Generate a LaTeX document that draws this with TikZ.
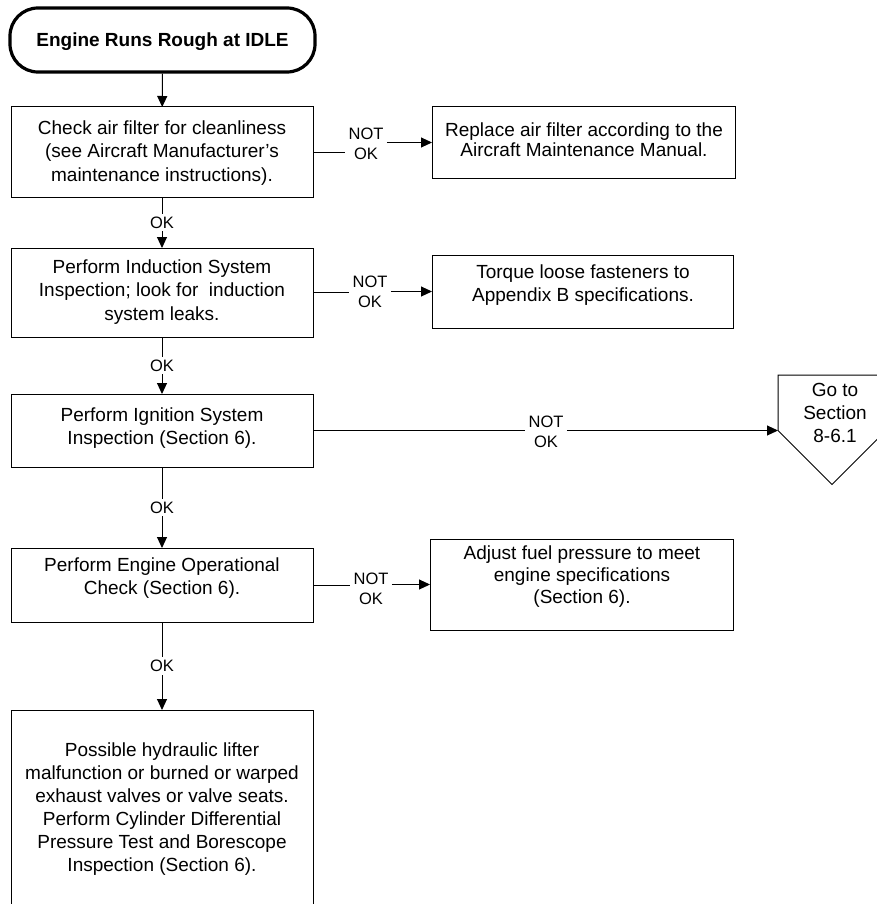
\documentclass[tikz,border=0pt]{standalone}
\usepackage{fontspec}
\setmainfont{Liberation Sans}
\usetikzlibrary{arrows.meta}
\begin{document}
\begin{tikzpicture}[x=0.5pt,y=-0.5pt,
 box/.style={draw, line width=0.5pt, inner sep=0pt, outer sep=0pt},
 txt/.style={align=center, font=\fontsize{9.5}{11.8}\selectfont, inner sep=0pt},
 lbl/.style={align=center, font=\fontsize{8.25}{10.2}\selectfont, fill=white, inner sep=1.5pt},
 arr/.style={-{Triangle[length=5.5pt,width=5pt]}, line width=0.5pt},
 con/.style={line width=0.5pt}]
\useasboundingbox (0,0) rectangle (877,904);
\clip (0,0) rectangle (877,904);
% terminal
\node[draw, line width=1.6pt, rounded corners=14pt, minimum width=152.5pt, minimum height=32pt, inner sep=0pt] (title) at (162.5,40) {};
\node[txt, font=\fontsize{9.5}{11.8}\selectfont\bfseries] (titletxt) at (162.5,42) {Engine Runs Rough at IDLE};
% left column
\node[box, minimum width=151pt, minimum height=45pt] (b1) at (162,152) {};
\node[txt] (b1t) at (162,153) {Check air filter for cleanliness\\(see Aircraft Manufacturer’s\\maintenance instructions).};
\node[box, minimum width=151pt, minimum height=44.5pt] (b2) at (162,292.5) {};
\node[txt] (b2t) at (162,292) {Perform Induction System\\Inspection; look for \ induction\\system leaks.};
\node[box, minimum width=151pt, minimum height=36.5pt] (b3) at (162,430.5) {};
\node[txt] (b3t) at (162,428) {Perform Ignition System\\Inspection (Section 6).};
\node[box, minimum width=151pt, minimum height=37pt] (b4) at (162,585) {};
\node[txt] (b4t) at (162,578) {Perform Engine Operational\\Check (Section 6).};
\node[box, minimum width=151pt, minimum height=99.5pt] (b5) at (162,809.5) {};
\node[txt, font=\fontsize{9.5}{11.5}\selectfont] (b5t) at (162,809) {Possible hydraulic lifter\\malfunction or burned or warped\\exhaust valves or valve seats.\\Perform Cylinder Differential\\Pressure Test and Borescope\\Inspection (Section 6).};
% right column
\node[box, minimum width=151.5pt, minimum height=35.5pt] (r1) at (583.5,142.5) {};
\node[txt, font=\fontsize{9.5}{10.2}\selectfont] (r1t) at (584,140) {Replace air filter according to the\\Aircraft Maintenance Manual.};
\node[box, minimum width=150.5pt, minimum height=36.5pt] (r2) at (582.5,291.5) {};
\node[txt] (r2t) at (583,285) {Torque loose fasteners to\\Appendix B specifications.};
\node[box, minimum width=151.5pt, minimum height=45.5pt] (r4) at (581.5,584.5) {};
\node[txt, font=\fontsize{9.5}{11}\selectfont] (r4t) at (582,577) {Adjust fuel pressure to meet\\engine specifications\\(Section 6).};
% off-page connector
\draw[con] (778,375) -- (886,375) -- (886,430.5) -- (832,484.5) -- (778,430.5) -- cycle;
\coordinate (goto) at (778,430.5);
\node[txt, font=\fontsize{9.5}{11.6}\selectfont] (gotot) at (835,413) {Go to\\Section\\8-6.1};
% vertical connectors
\draw[arr] (title) -- (b1);
\draw[arr] (b1) -- node[lbl, pos=0.5] {OK} (b2);
\draw[arr] (b2) -- node[lbl, pos=0.5] {OK} (b3);
\draw[arr] (b3) -- node[lbl, pos=0.5] {OK} (b4);
\draw[arr] (b4) -- node[lbl, pos=0.5] {OK} (b5);
% horizontal connectors
\node[lbl] (n1) at (366,144) {NOT\\OK};
\draw[con] (b1.east) -- (n1.west |- b1.east);
\draw[arr] (n1.east |- r1.west) -- (r1.west);
\node[lbl] (n2) at (370,292) {NOT\\OK};
\draw[con] (b2.east) -- (n2.west |- b2.east);
\draw[arr] (n2.east |- r2.west) -- (r2.west);
\node[lbl] (n3) at (546,432) {NOT\\OK};
\draw[con] (b3.east) -- (n3.west |- b3.east);
\draw[arr] (n3.east |- goto) -- (goto);
\node[lbl] (n4) at (371,589) {NOT\\OK};
\draw[con] (b4.east) -- (n4.west |- b4.east);
\draw[arr] (n4.east |- r4.west) -- (r4.west);
\end{tikzpicture}
\end{document}
